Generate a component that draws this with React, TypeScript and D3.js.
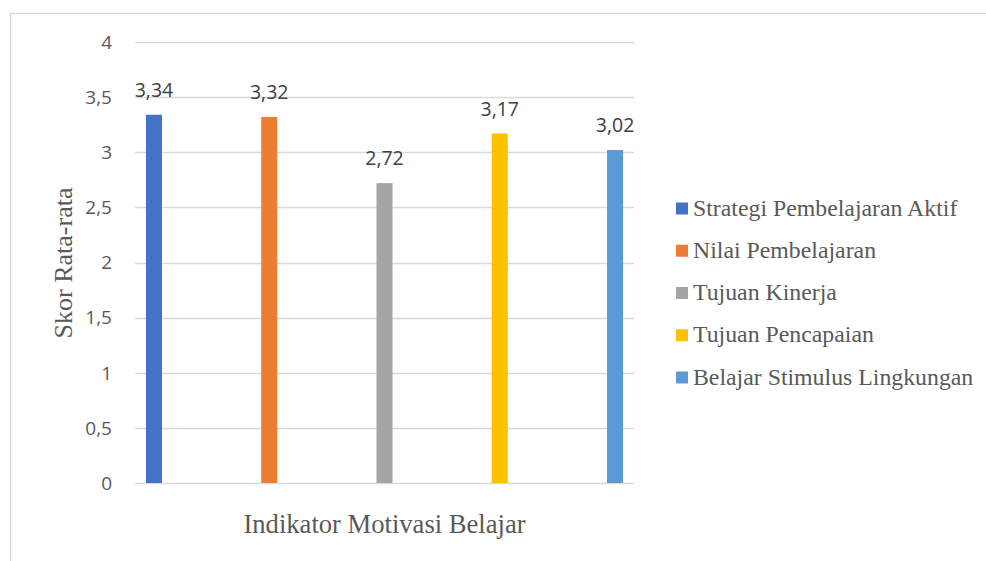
import { useRef, useEffect } from 'react';
import * as d3 from 'd3';

const seriesNames = [
  'Strategi Pembelajaran Aktif',
  'Nilai Pembelajaran',
  'Tujuan Kinerja',
  'Tujuan Pencapaian',
  'Belajar Stimulus Lingkungan',
];
const seriesValues = [3.34, 3.32, 2.72, 3.17, 3.02];
const seriesColors = ['#4472C4', '#ED7D31', '#A5A5A5', '#FFC000', '#5B9BD5'];
const yTicks = [0, 0.5, 1, 1.5, 2, 2.5, 3, 3.5, 4];
const xTitle = 'Indikator Motivasi Belajar';
const yTitle = 'Skor Rata-rata';

const fmt = (v: number) => String(v).replace('.', ',');

export default function App() {
  const svgRef = useRef<SVGSVGElement>(null);

  useEffect(() => {
    if (!svgRef.current) return;
    const svg = d3.select(svgRef.current);
    svg.selectAll('*').remove();

    const W = 986;
    const H = 561;
    const plot = { left: 135, right: 634, top: 42, bottom: 483 };
    const textColor = '#595959';
    const sans = '"Open Sans", sans-serif';
    const serif = '"Liberation Serif", "DejaVu Serif", serif';

    svg.attr('width', W).attr('height', H);

    // chart frame (runs off the right and bottom edges, as in the source)
    svg.append('rect')
      .attr('x', 10.5)
      .attr('y', 13.5)
      .attr('width', W + 40)
      .attr('height', H + 40)
      .attr('fill', 'white')
      .attr('stroke', '#d9d9d9')
      .attr('stroke-width', 1.5);

    const y = d3.scaleLinear().domain([0, 4]).range([plot.bottom, plot.top]);
    const x = d3
      .scaleBand<string>()
      .domain(seriesNames)
      .range([plot.left, plot.right])
      .paddingInner(0.861)
      .paddingOuter(0.095);

    const g = svg.append('g');

    // gridlines
    g.selectAll('.grid')
      .data(yTicks)
      .join('line')
      .attr('x1', plot.left)
      .attr('x2', plot.right)
      .attr('y1', (d) => Math.round(y(d)) + 0.5)
      .attr('y2', (d) => Math.round(y(d)) + 0.5)
      .attr('stroke', '#d9d9d9')
      .attr('stroke-width', 1.3);

    // tick labels
    g.selectAll('.tick')
      .data(yTicks)
      .join('text')
      .attr('x', 112)
      .attr('y', (d) => y(d))
      .attr('dy', '0.36em')
      .attr('text-anchor', 'end')
      .style('font-family', sans)
      .attr('font-size', 19)
      .attr('fill', textColor)
      .text((d) => fmt(d));

    // bars
    g.selectAll('.bar')
      .data(seriesNames)
      .join('rect')
      .attr('x', (d) => x(d) ?? 0)
      .attr('y', (_, i) => y(seriesValues[i]))
      .attr('width', x.bandwidth())
      .attr('height', (_, i) => y(0) - y(seriesValues[i]))
      .attr('fill', (_, i) => seriesColors[i]);

    // data labels
    g.selectAll('.label')
      .data(seriesNames)
      .join('text')
      .attr('x', (d) => (x(d) ?? 0) + x.bandwidth() / 2)
      .attr('y', (_, i) => y(seriesValues[i]) - 18)
      .attr('text-anchor', 'middle')
      .style('font-family', sans)
      .attr('font-size', 19.5)
      .attr('fill', '#404040')
      .text((_, i) => fmt(seriesValues[i]));

    // axis titles
    svg.append('text')
      .attr('x', (plot.left + plot.right) / 2)
      .attr('y', 533)
      .attr('text-anchor', 'middle')
      .style('font-family', serif)
      .attr('font-size', 26.6)
      .attr('fill', textColor)
      .text(xTitle);

    svg.append('text')
      .attr('transform', `translate(72,${263}) rotate(-90)`)
      .attr('text-anchor', 'middle')
      .style('font-family', serif)
      .attr('font-size', 26)
      .attr('fill', textColor)
      .text(yTitle);

    // legend
    const rowY = d3.scalePoint<string>().domain(seriesNames).range([208.5, 377.5]);
    const items = svg.append('g')
      .selectAll('.item')
      .data(seriesNames)
      .join('g')
      .attr('transform', (d) => `translate(676,${rowY(d)})`);
    items.append('rect')
      .attr('x', 0)
      .attr('y', -6)
      .attr('width', 12)
      .attr('height', 12)
      .attr('fill', (_, i) => seriesColors[i]);
    items.append('text')
      .attr('x', 17)
      .attr('y', 7)
      .style('font-family', serif)
      .attr('font-size', 23.8)
      .attr('fill', textColor)
      .text((d) => d);
  }, []);

  return (
    <div style={{ position: 'fixed', left: 0, top: 0, width: 986, height: 561, overflow: 'hidden', background: 'white' }}>
      <svg ref={svgRef} style={{ display: 'block' }} />
    </div>
  );
}
